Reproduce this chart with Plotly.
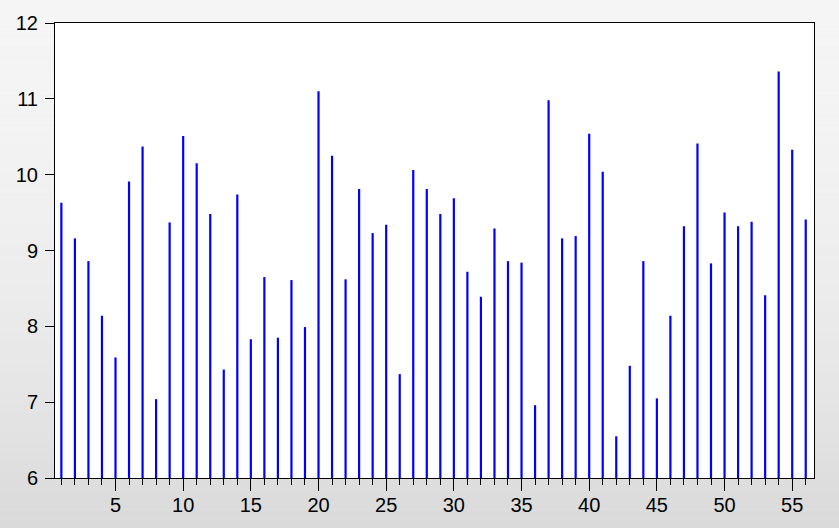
import plotly.graph_objects as go

obs = list(range(1, 57))
values = [9.63, 9.16, 8.86, 8.14, 7.59, 9.91, 10.37, 7.04, 9.37, 10.51,
          10.15, 9.48, 7.43, 9.74, 7.83, 8.65, 7.85, 8.61, 7.99, 11.10,
          10.25, 8.62, 9.81, 9.23, 9.34, 7.37, 10.06, 9.81, 9.48, 9.69,
          8.72, 8.39, 9.29, 8.86, 8.84, 6.96, 10.98, 9.16, 9.19, 10.54,
          10.04, 6.55, 7.48, 8.86, 7.05, 8.14, 9.32, 10.41, 8.83, 9.50,
          9.32, 9.38, 8.41, 11.36, 10.33, 9.41]
base = 6

W, H = 839, 528
font = "Liberation Sans, Arial, sans-serif"

# spikes from the axis floor up to each value
xs, ys = [], []
for x, v in zip(obs, values):
    xs += [x, x, None]
    ys += [base, v, None]

fig = go.Figure()
fig.add_trace(go.Scatter(x=xs, y=ys, mode="lines",
                         line=dict(color="#0000ff", width=2.2),
                         hoverinfo="skip"))

# grey gradient background (paper), then white plot area on top of it
shapes = []
n = 60
for i in range(n):
    t = (i + 0.5) / n
    c = int(round(245 - 32 * t ** 2))
    shapes.append(dict(type="rect", xref="paper", yref="paper",
                       x0=-0.2, x1=1.2, y0=1.1 - (i + 1) / n * 1.3, y1=1.1 - i / n * 1.3,
                       fillcolor=f"rgb({c},{c},{c})", line=dict(width=0),
                       layer="below"))
shapes.append(dict(type="rect", xref="paper", yref="paper", x0=0, x1=1, y0=0, y1=1,
                   fillcolor="white", line=dict(width=0), layer="below"))

fig.update_layout(
    width=W, height=H,
    margin=dict(l=55, r=25, t=23, b=50, autoexpand=False),
    paper_bgcolor="#e6e6e6",
    plot_bgcolor="white",
    showlegend=False,
    shapes=shapes,
    font=dict(family=font, size=20, color="black"),
)
fig.update_xaxes(range=[0.53, 56.61], tickmode="linear", tick0=0, dtick=5,
                 ticks="outside", ticklen=12, tickcolor="black", tickwidth=1,
                 showgrid=False, zeroline=False, automargin=False,
                 showline=True, linecolor="black", linewidth=1, mirror=True,
                 minor=dict(tickmode="linear", tick0=0, dtick=1, ticks="outside",
                            ticklen=6, tickcolor="black", tickwidth=1, showgrid=False),
                 ticklabelstandoff=-3,
                 tickfont=dict(size=20))
fig.update_yaxes(range=[6, 12], tickmode="linear", tick0=6, dtick=1,
                 ticks="outside", ticklen=9, tickcolor="black", tickwidth=1,
                 showgrid=False, zeroline=False, automargin=False,
                 showline=True, linecolor="black", linewidth=1, mirror=True,
                 ticklabelstandoff=3,
                 tickfont=dict(size=20))

# drop the page's default body margin so the chart fills the window
fig.write_html("out.html", config={"displayModeBar": False},
               post_script="document.body.style.margin='0';")
